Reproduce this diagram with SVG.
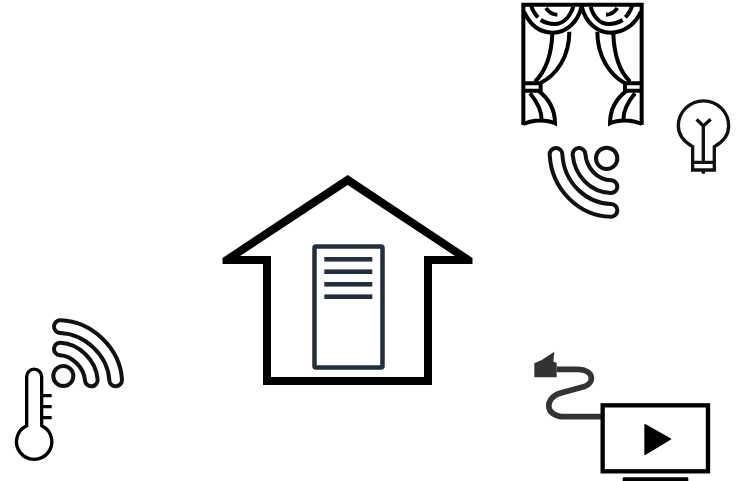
<svg xmlns="http://www.w3.org/2000/svg" width="736" height="481" viewBox="0 0 736 481">
<style>
.k{fill:none;stroke:#000;stroke-width:12}
.o{fill:none;stroke:#111;stroke-width:50;stroke-linecap:round}
.w{fill:none;stroke:#fff;stroke-width:26;stroke-linecap:round}
.s{fill:#232f3e}
</style>
<rect width="736" height="481" fill="#fff"/>
<g id="house">
<path fill="#000" fill-rule="evenodd" d="M347.7 175L472.5 258V264H432V385H263V264H222.5V258ZM347.7 185L240 256H271V377H424V256H455Z"/>
</g>
<g id="server">
<rect x="314.5" y="246.5" width="68" height="121" rx="1.5" fill="#fff" stroke="#232f3e" stroke-width="4.5"/>
<rect class="s" x="324.3" y="257" width="48" height="4.6"/>
<rect class="s" x="324.3" y="269.4" width="48" height="4.6"/>
<rect class="s" x="324.3" y="282" width="48" height="4.6"/>
<rect class="s" x="324.3" y="294.4" width="48" height="4.6"/>
</g>
<g id="curtains" transform="translate(510 0) scale(.3333)">
<path class="k" d="M40 375V14H395V375"/>
<path class="k" d="M42 35C60 75 90 98 128 98C170 98 205 65 215 18C225 65 260 98 302 98C340 98 375 75 393 35"/>
<path class="k" d="M62 14C68 32 76 44 84 52M92 60C105 68 118 72 134 72C160 72 180 50 190 20M242 20C250 50 270 72 296 72C312 72 325 68 338 60M346 52C354 44 362 32 368 14"/>
<path class="k" d="M108 24C116 36 126 44 142 44M322 24C314 36 304 44 288 44"/>
<path class="k" d="M127 100C125 160 110 210 75 245M178 95C178 170 140 225 90 250M262 95C262 170 300 225 345 250M310 100C312 160 325 210 360 245"/>
<path class="k" d="M40 250H92V272H40M395 250H345V272H395"/>
<path class="k" d="M85 272C115 295 135 330 135 370C110 358 70 358 40 372M60 280C85 310 95 335 95 360M350 272C320 295 300 330 300 370C325 358 365 358 395 372M375 280C350 310 340 335 340 360"/>
</g>
<g id="bulb" transform="translate(510 0) scale(.3333)">
<path fill="none" stroke="#111" stroke-width="10" d="M548 440V510H613V440C640 425 656 405 656 378A75 75 0 0 0 505 378C505 405 522 425 548 440ZM548 487H613M580 487V378M560 358L580 378L602 358M580 510V521"/>
</g>
<g id="wifi-curtain" transform="translate(510 0) scale(.3333)">
<circle cx="290" cy="475" r="32" fill="none" stroke="#111" stroke-width="12"/>
<path class="o" d="M207 463C212 515 250 558 303 560"/>
<path class="o" d="M138 463C143 560 220 630 303 631"/>
<path class="w" d="M207 463C212 515 250 558 303 560"/>
<path class="w" d="M138 463C143 560 220 630 303 631"/>
</g>
<g id="thermo" transform="translate(0 305) scale(.3333)">
<circle cx="190" cy="213" r="30" fill="none" stroke="#111" stroke-width="12"/>
<path class="o" d="M181 132C225 134 270 175 274 225"/>
<path class="o" d="M181 65C265 68 342 140 347 225"/>
<path class="w" d="M181 132C225 134 270 175 274 225"/>
<path class="w" d="M181 65C265 68 342 140 347 225"/>
<path fill="none" stroke="#000" stroke-width="10" d="M80 362V215A22 22 0 0 1 125 215V362A53 53 0 1 1 80 362ZM125 272H155M125 305H155M125 338H155"/>
</g>
<g id="tv" transform="translate(525 340) scale(.3333)">
<path fill="#333" d="M28 70L50 60L88 35L85 65L95 68V112H28Z"/>
<path fill="none" stroke="#333" stroke-width="17" d="M95 88H160C205 88 215 130 170 142L105 160C60 172 55 230 120 230H230"/>
<rect x="233" y="196" width="316" height="198" fill="#fff" stroke="#000" stroke-width="13"/>
<path fill="#000" stroke="#000" stroke-width="4" stroke-linejoin="round" d="M360 254L437 297L360 343Z"/>
<rect x="293" y="412" width="197" height="14" rx="4" fill="#000"/>
</g>
</svg>
